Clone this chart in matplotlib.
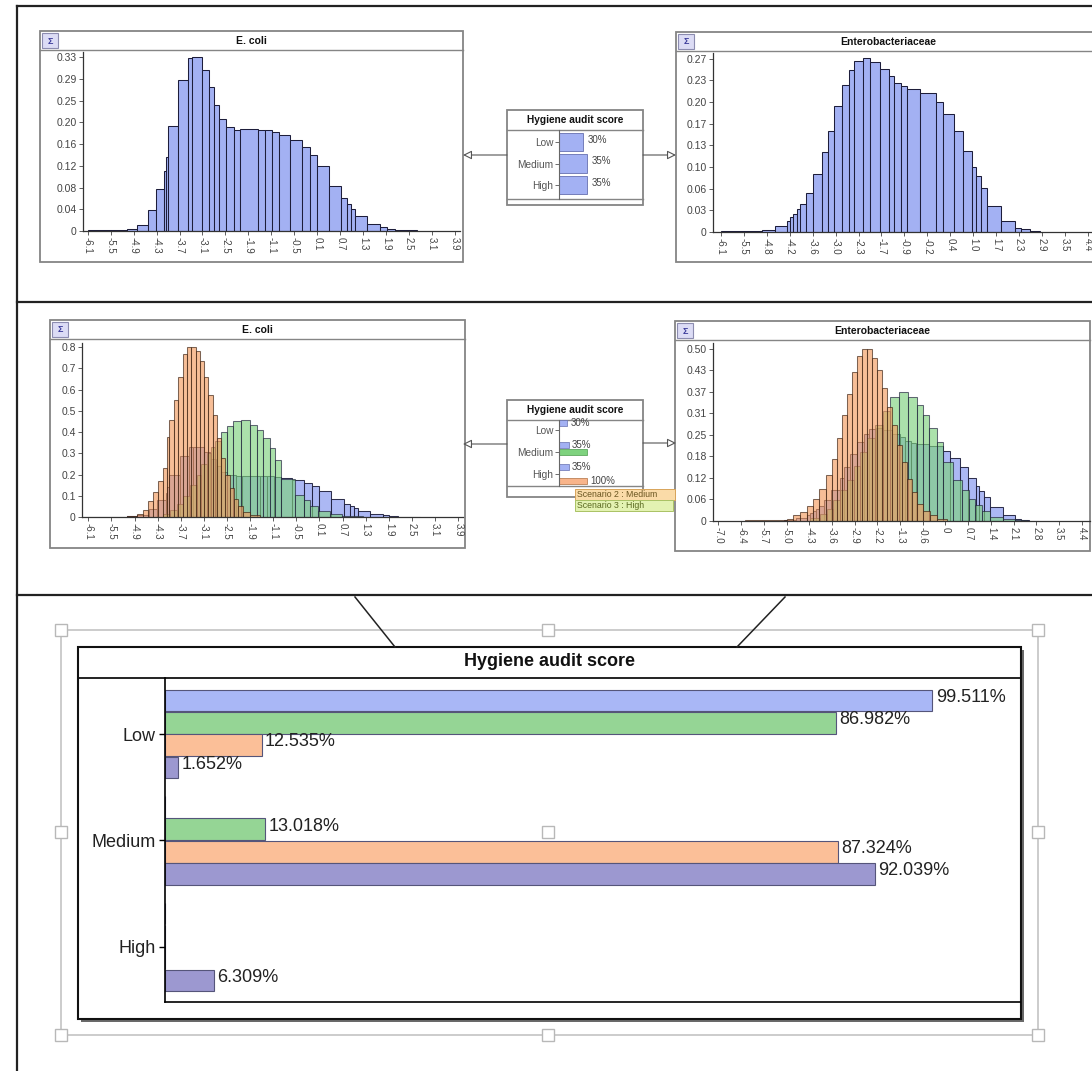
"""Bayesian-network style screenshot: E. coli / Enterobacteriaceae histograms
per hygiene audit scenario, plus the posterior bar chart for the audit score."""

import numpy as np
import matplotlib
matplotlib.use("Agg")
import matplotlib.pyplot as plt
from matplotlib.patches import Rectangle

plt.rcParams["font.family"] = ["Liberation Sans", "DejaVu Sans"]

W, H = 1092, 1071

# ---- histogram data (bin edges in log units, heights = density) ----
ECOLI_PRIOR_EDGES = [-6.1, -5.04, -4.77, -4.45, -4.24, -4.01, -3.97, -3.92, -3.63, -3.38,
                     -3.27, -2.98, -2.81, -2.66, -2.52, -2.34, -2.11, -1.95, -1.47, -1.27,
                     -1.07, -0.89, -0.59, -0.26, -0.05, 0.15, 0.47, 0.80, 0.97, 1.07,
                     1.18, 1.52, 1.86, 2.04, 2.27, 2.86]
ECOLI_PRIOR = [0.001, 0.003, 0.011, 0.039, 0.079, 0.114, 0.14, 0.20, 0.287, 0.328,
               0.331, 0.306, 0.274, 0.239, 0.213, 0.198, 0.192, 0.194, 0.192, 0.191,
               0.188, 0.182, 0.173, 0.159, 0.144, 0.123, 0.086, 0.063, 0.051, 0.041,
               0.028, 0.014, 0.008, 0.003, 0.001]

ECOLI_MED_EDGES = [-4.07, -3.89, -3.71, -3.53, -3.35, -3.17, -3.04, -2.90, -2.77, -2.68,
                   -2.50, -2.36, -2.18, -1.96, -1.73, -1.55, -1.37, -1.19, -1.05, -0.90,
                   -0.51, -0.27, -0.11, 0.12, 0.43, 0.75, 1.33]
ECOLI_MED = [0.015, 0.035, 0.06, 0.1, 0.15, 0.2, 0.25, 0.3, 0.33, 0.359,
             0.40, 0.427, 0.453, 0.458, 0.435, 0.411, 0.372, 0.325, 0.27, 0.18,
             0.105, 0.082, 0.05, 0.027, 0.014, 0.005]

ECOLI_HIGH_EDGES = [-5.06, -4.79, -4.61, -4.48, -4.34, -4.21, -4.09, -3.98, -3.91, -3.78,
                    -3.67, -3.53, -3.42, -3.31, -3.20, -3.08, -2.97, -2.86, -2.74, -2.63,
                    -2.52, -2.41, -2.27, -2.16, -2.05, -1.91, -1.73, -1.46]
ECOLI_HIGH = [0.004, 0.014, 0.035, 0.074, 0.12, 0.168, 0.23, 0.375, 0.458, 0.552,
              0.662, 0.767, 0.80, 0.80, 0.78, 0.733, 0.662, 0.575, 0.48, 0.37,
              0.278, 0.20, 0.136, 0.085, 0.05, 0.024, 0.008]

ENTERO_PRIOR_EDGES = [-6.1, -4.94, -4.55, -4.22, -4.12, -4.03, -3.93, -3.84, -3.68, -3.46,
                      -3.20, -3.05, -2.88, -2.65, -2.43, -2.28, -2.05, -1.83, -1.55, -1.29,
                      -1.14, -0.96, -0.79, -0.40, 0.05, 0.26, 0.58, 0.84, 1.08, 1.19,
                      1.34, 1.51, 1.92, 2.32, 2.49, 2.75, 3.03]
ENTERO_PRIOR = [0.001, 0.003, 0.009, 0.017, 0.024, 0.028, 0.036, 0.043, 0.061, 0.090,
                0.124, 0.157, 0.196, 0.229, 0.252, 0.266, 0.271, 0.265, 0.254, 0.243,
                0.233, 0.227, 0.223, 0.217, 0.202, 0.184, 0.157, 0.126, 0.102, 0.087,
                0.069, 0.041, 0.017, 0.007, 0.004, 0.001]

ENTERO_MED_EDGES = [-4.12, -3.81, -3.60, -3.39, -3.18, -2.97, -2.76, -2.55, -2.35, -2.08,
                    -1.84, -1.61, -1.32, -1.04, -0.78, -0.57, -0.38, -0.15, 0.06, 0.37,
                    0.64, 0.85, 1.05, 1.26, 1.53, 1.94, 2.31, 2.68]
ENTERO_MED = [0.01, 0.02, 0.035, 0.06, 0.09, 0.12, 0.16, 0.2, 0.24, 0.28,
              0.32, 0.361, 0.374, 0.361, 0.337, 0.308, 0.27, 0.23, 0.17, 0.12,
              0.09, 0.065, 0.046, 0.028, 0.013, 0.006, 0.002]

ENTERO_HIGH_EDGES = [-6.16, -4.86, -4.65, -4.44, -4.23, -4.02, -3.83, -3.63, -3.44, -3.29,
                     -3.13, -2.97, -2.82, -2.66, -2.50, -2.35, -2.19, -2.03, -1.87, -1.72,
                     -1.56, -1.40, -1.25, -1.09, -0.93, -0.78, -0.57, -0.36, -0.15, 0.17]
ENTERO_HIGH = [0.002, 0.005, 0.017, 0.026, 0.043, 0.065, 0.094, 0.133, 0.18, 0.24,
               0.308, 0.37, 0.434, 0.478, 0.5, 0.5, 0.473, 0.439, 0.385, 0.332,
               0.279, 0.22, 0.172, 0.123, 0.084, 0.05, 0.028, 0.017, 0.007]

# ---- tick labels as printed by the tool ----
ECOLI_XLABELS = ["-6.1", "-5.5", "-4.9", "-4.3", "-3.7", "-3.1", "-2.5", "-1.9", "-1.1",
                 "-0.5", "0.1", "0.7", "1.3", "1.9", "2.5", "3.1", "3.9"]
ENTERO_TOP_XLABELS = ["-6.1", "-5.5", "-4.8", "-4.2", "-3.6", "-3.0", "-2.3", "-1.7", "-0.9",
                      "-0.2", "0.4", "1.0", "1.7", "2.3", "2.9", "3.5", "4.4"]
ENTERO_MID_XLABELS = ["-7.0", "-6.4", "-5.7", "-5.0", "-4.3", "-3.6", "-2.9", "-2.2", "-1.3",
                      "-0.6", "0", "0.7", "1.4", "2.1", "2.8", "3.5", "4.4"]
ECOLI_TOP_YLABELS = ["0", "0.04", "0.08", "0.12", "0.16", "0.20", "0.25", "0.29", "0.33"]
ENTERO_TOP_YLABELS = ["0", "0.03", "0.06", "0.10", "0.13", "0.17", "0.20", "0.23", "0.27"]
ECOLI_MID_YLABELS = ["0", "0.1", "0.2", "0.3", "0.4", "0.5", "0.6", "0.7", "0.8"]
ENTERO_MID_YLABELS = ["0", "0.06", "0.12", "0.18", "0.25", "0.31", "0.37", "0.43", "0.50"]

# ---- hygiene audit score node ----
LEVELS = ["Low", "Medium", "High"]
PRIOR_PCT = [30, 35, 35]
SCEN_MED_PCT = [0, 100, 0]
SCEN_HIGH_PCT = [0, 0, 100]

# posterior bar chart (%)
POST_BLUE = [99.511, 0, 0]
POST_GREEN = [86.982, 13.018, 0]
POST_ORANGE = [12.535, 87.324, 0]
POST_PURPLE = [1.652, 92.039, 6.309]

BLUE = "#a3b1f3"
GREEN = "#7ed27e"
ORANGE = "#f39c60"
PURPLE = "#9c98d0"
BAR_BLUE = "#a9b7f6"
BAR_GREEN = "#95d595"
BAR_ORANGE = "#fbbf98"

fig = plt.figure(figsize=(W / 100, H / 100), dpi=100)


def px_axes(x0, y0, x1, y1, z=2):
    ax = fig.add_axes([x0 / W, 1 - y1 / H, (x1 - x0) / W, (y1 - y0) / H])
    ax.set_zorder(z)
    return ax


bg = px_axes(0, 0, W, H, z=0)
bg.set_xlim(0, W)
bg.set_ylim(H, 0)
bg.axis("off")
fg = px_axes(0, 0, W, H, z=10)
fg.set_xlim(0, W)
fg.set_ylim(H, 0)
fg.axis("off")

# outer frame and row separators
bg.plot([17, 17], [6, H], color="#222", lw=1.6)
for yy in (6, 302, 595):
    bg.plot([17, W], [yy, yy], color="#222", lw=1.6)


def panel(x0, y0, x1, y1, title):
    bg.add_patch(Rectangle((x0, y0), x1 - x0, y1 - y0, fc="white", ec="#858585", lw=1.3))
    bg.plot([x0, x1], [y0 + 19, y0 + 19], color="#858585", lw=1)
    bg.add_patch(Rectangle((x0 + 2, y0 + 2), 16, 15, fc="#dcdcf5", ec="#8c8cb0", lw=0.8))
    bg.text(x0 + 10, y0 + 10, "Σ", ha="center", va="center", fontsize=6.5,
            color="#3b3b9a", fontweight="bold")
    bg.text((x0 + x1) / 2, y0 + 10, title, ha="center", va="center", fontsize=7.5,
            fontweight="bold", color="#111")


def hist_axes(box, xlim, ylim, xlabels, ylabels):
    ax = px_axes(*box)
    ax.set_facecolor("none")
    ax.set_xlim(*xlim)
    ax.set_ylim(*ylim)
    for s in ("top", "right"):
        ax.spines[s].set_visible(False)
    for s in ("left", "bottom"):
        ax.spines[s].set_color("#333")
        ax.spines[s].set_linewidth(0.9)
    lo, hi = float(xlabels[0]), float(xlabels[-1])
    ax.set_xticks(np.linspace(lo, hi, len(xlabels)), xlabels, rotation=270,
                  fontsize=7, color="#444")
    ymax = float(ylabels[-1])
    ax.set_yticks(np.linspace(0, ymax, len(ylabels)), ylabels, fontsize=7.5, color="#444")
    ax.tick_params(length=3, width=0.6, pad=1.5, colors="#444")
    return ax


def draw_hist(ax, edges, heights, color, alpha, ecol="#1d1d3a"):
    e = np.asarray(edges)
    ax.bar(e[:-1], heights, width=np.diff(e), align="edge", color=color, alpha=alpha,
           edgecolor=ecol, linewidth=0.75)


# ---- top row: prior ----
panel(40, 31, 463, 262, "E. coli")
ax = hist_axes((83, 52, 460, 231), (-6.23, 4.04), (0, 0.340), ECOLI_XLABELS, ECOLI_TOP_YLABELS)
draw_hist(ax, ECOLI_PRIOR_EDGES, ECOLI_PRIOR, BLUE, 1.0)

panel(676, 32, 1100, 262, "Enterobacteriaceae")
ax = hist_axes((713, 53, 1092, 232), (-6.33, 4.52), (0, 0.279), ENTERO_TOP_XLABELS,
               ENTERO_TOP_YLABELS)
draw_hist(ax, ENTERO_PRIOR_EDGES, ENTERO_PRIOR, BLUE, 1.0)

# ---- middle row: scenarios ----
panel(50, 320, 465, 548, "E. coli")
ax = hist_axes((82, 343, 463, 517), (-6.27, 4.03), (0, 0.82), ECOLI_XLABELS, ECOLI_MID_YLABELS)
draw_hist(ax, ECOLI_PRIOR_EDGES, ECOLI_PRIOR, BLUE, 0.9)
draw_hist(ax, ECOLI_MED_EDGES, ECOLI_MED, GREEN, 0.65)
draw_hist(ax, ECOLI_HIGH_EDGES, ECOLI_HIGH, ORANGE, 0.65, ecol="#3a2010")

panel(675, 321, 1090, 551, "Enterobacteriaceae")
ax = hist_axes((713, 343, 1090, 521), (-7.17, 4.66), (0, 0.517), ENTERO_MID_XLABELS,
               ENTERO_MID_YLABELS)
draw_hist(ax, ENTERO_PRIOR_EDGES, ENTERO_PRIOR, BLUE, 0.9)
draw_hist(ax, ENTERO_MED_EDGES, ENTERO_MED, GREEN, 0.65)
draw_hist(ax, ENTERO_HIGH_EDGES, ENTERO_HIGH, ORANGE, 0.65, ecol="#3a2010")


# ---- hygiene audit score nodes ----
def node_box(y0, y1, ybar_top, ybar_bot):
    bg.add_patch(Rectangle((507, y0), 136, y1 - y0, fc="white", ec="#858585", lw=1.3))
    bg.plot([507, 643], [y0 + 20, y0 + 20], color="#858585", lw=1)
    bg.plot([507, 643], [ybar_bot, ybar_bot], color="#858585", lw=1)
    bg.text(575, y0 + 10, "Hygiene audit score", ha="center", va="center", fontsize=7.3,
            fontweight="bold", color="#111")
    nax = px_axes(559, ybar_top, 643, ybar_bot, z=3)
    nax.set_facecolor("none")
    for s in ("top", "right", "bottom"):
        nax.spines[s].set_visible(False)
    nax.spines["left"].set_color("#666")
    nax.set_xticks([])
    nax.set_yticks(range(len(LEVELS)), LEVELS, fontsize=7.3, color="#555")
    nax.tick_params(axis="y", length=3, width=0.6, pad=1, colors="#555")
    return nax


def arrow(x_from, x_to, y):
    bg.annotate("", xy=(x_to, y), xytext=(x_from, y),
                arrowprops=dict(arrowstyle="-|>", fc="white", ec="#555", lw=0.8,
                                mutation_scale=13, shrinkA=0, shrinkB=0))


nax = node_box(110, 205, 130, 199)
pos = np.arange(len(LEVELS))
nax.barh(pos, PRIOR_PCT, height=0.88, color=BLUE, edgecolor="#6670b0", lw=0.6)
nax.set_xlim(0, 3 * max(PRIOR_PCT))
nax.set_ylim(2.65, -0.56)
for p, v in zip(pos, PRIOR_PCT):
    nax.text(v + 6, p - 0.1, f"{v}%", fontsize=7, color="#444", va="center")
arrow(507, 463, 155)
arrow(643, 676, 155)

nax = node_box(400, 497, 420, 486)
nax.barh(pos - 0.32, PRIOR_PCT, height=0.25, color=BLUE, edgecolor="#6670b0", lw=0.5)
nax.barh(pos, SCEN_MED_PCT, height=0.25, color=GREEN, edgecolor="#4a9a4a", lw=0.5)
nax.barh(pos + 0.32, SCEN_HIGH_PCT, height=0.25, color="#f8b48a", edgecolor="#b07040", lw=0.5)
nax.set_xlim(0, 3 * max(SCEN_HIGH_PCT))
nax.set_ylim(2.55, -0.45)
for p, v in zip(pos, PRIOR_PCT):
    nax.text(v + 10, p - 0.32, f"{v}%", fontsize=7, color="#444", va="center")
for p, v in zip(pos, SCEN_HIGH_PCT):
    if v:
        nax.text(v + 12, p + 0.32, f"{v}%", fontsize=7, color="#444", va="center")
arrow(507, 463, 444)
arrow(643, 676, 443)

# tooltips
fg.add_patch(Rectangle((575, 489), 100, 11, fc="#fadba8", ec="#d8a45a", lw=0.7))
fg.text(577, 494.5, "Scenario 2 : Medium", fontsize=6.3, color="#6a5520", va="center")
fg.add_patch(Rectangle((575, 500), 98, 11, fc="#e3f2b2", ec="#a9c264", lw=0.7))
fg.text(577, 505.5, "Scenario 3 : High", fontsize=6.3, color="#5a6a20", va="center")

# ---- bottom: posterior bar chart ----
bg.plot([355, 395], [597, 647], color="#222", lw=1.1)
bg.plot([785, 737], [597, 647], color="#222", lw=1.1)

bg.add_patch(Rectangle((61, 630), 977, 405, fill=False, ec="#c4c4c4", lw=1.2))
bg.add_patch(Rectangle((81, 650), 943, 372, fc="#6a6a6a", ec="none"))
bg.add_patch(Rectangle((78, 647), 943, 372, fc="white", ec="#111", lw=1.5))
bg.plot([78, 1021], [678, 678], color="#111", lw=1.3)
bg.text(549, 662, "Hygiene audit score", ha="center", va="center", fontsize=13,
        fontweight="bold", color="#111")

bax = px_axes(165, 678, 1020, 1002, z=3)
bax.set_facecolor("none")
for s in ("top", "right"):
    bax.spines[s].set_visible(False)
bax.spines["left"].set_linewidth(1.2)
bax.spines["bottom"].set_linewidth(1.2)
bax.set_xlim(0, 110.9)
bax.set_ylim(2.517, -0.526)
bax.set_xticks([])
bax.set_yticks(range(len(LEVELS)), LEVELS, fontsize=13, color="#222")
bax.tick_params(axis="y", length=4, width=1, pad=3)

series = [(POST_BLUE, BAR_BLUE), (POST_GREEN, BAR_GREEN),
          (POST_ORANGE, BAR_ORANGE), (POST_PURPLE, PURPLE)]
slot = 0.21
for k, (vals, col) in enumerate(series):
    off = (k - 1.5) * slot
    bax.barh(pos + off, vals, height=slot * 0.97, color=col, edgecolor="#55557a", lw=0.8)
    for p, v in zip(pos, vals):
        if v:
            bax.text(v + 0.45, p + off - 0.03, f"{v:.3f}%", fontsize=13, color="#222",
                     va="center", ha="left")

# selection handles (corners, edge midpoints, centre)
for hx in (61, 548, 1038):
    for hy in (630, 832, 1035):
        fg.add_patch(Rectangle((hx - 6, hy - 6), 12, 12, fc="white", ec="#b8b8b8", lw=1))

fig.savefig("out.png", dpi=100)
